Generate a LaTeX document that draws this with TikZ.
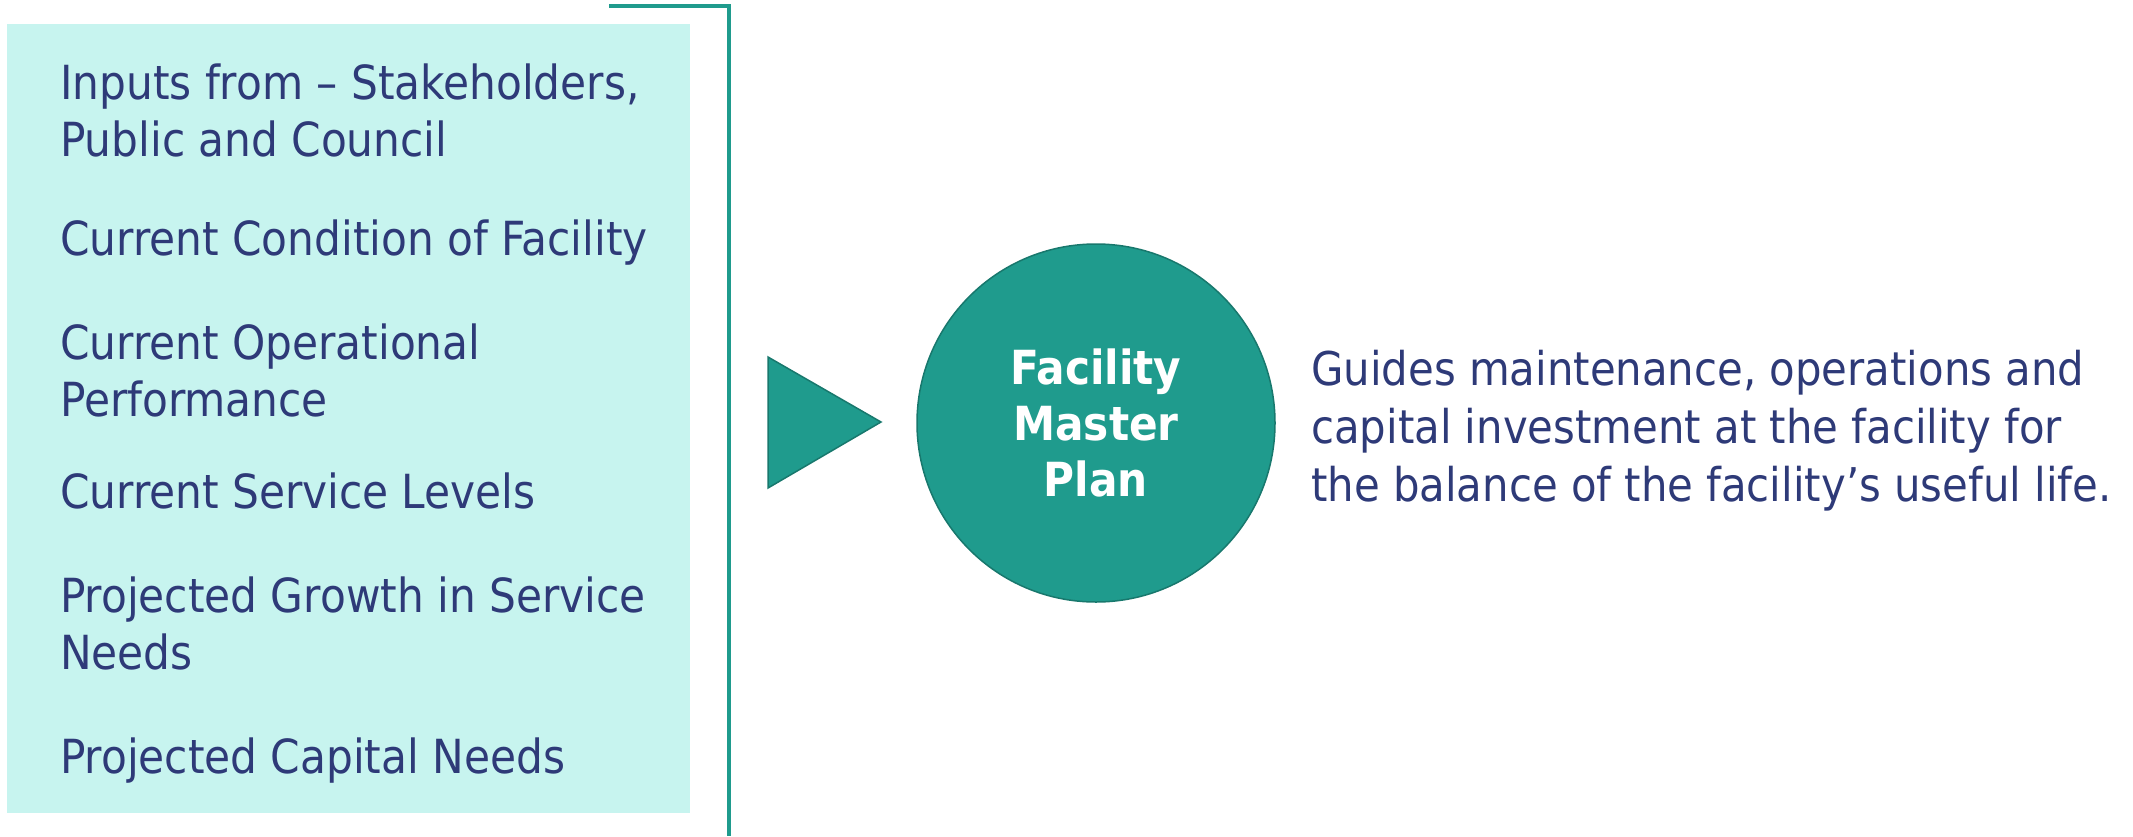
\documentclass[tikz,border=0pt]{standalone}
\usepackage{fontspec}
\setmainfont{DejaVu Sans Condensed}
\definecolor{boxfill}{RGB}{199,244,239}
\definecolor{navy}{RGB}{46,58,120}
\definecolor{teal1}{RGB}{31,155,141}
\definecolor{teal2}{RGB}{24,120,109}
\begin{document}
\begin{tikzpicture}[x=1pt,y=-1pt,
  item/.style={anchor=base west,align=left,inner sep=0pt,text=navy,font=\fontsize{47}{57}\selectfont},
  desc/.style={anchor=base west,align=left,inner sep=0pt,text=navy,font=\fontsize{46.5}{58}\selectfont}]
\useasboundingbox (0,0) rectangle (2133,836);
\fill[boxfill] (7,24) rectangle (690,813);
\node[item] (i1) at (60,156) {Inputs from – Stakeholders,\\Public and Council};
\node[item] (i2) at (60,255) {Current Condition of Facility};
\node[item] (i3) at (60,416) {Current Operational\\Performance};
\node[item] (i4) at (60,508) {Current Service Levels};
\node[item] (i5) at (60,669) {Projected Growth in Service\\Needs};
\node[item] (i6) at (60,773) {Projected Capital Needs};
\coordinate (b1) at (609,6);
\coordinate (b2) at (729,6);
\coordinate (b3) at (729,836);
\draw[teal1,line width=3.2pt] (b1) -- (b2) -- (b3);
\coordinate (t1) at (768,357);
\coordinate (t2) at (768,488);
\coordinate (t3) at (881,422);
\filldraw[fill=teal1,draw=teal2,line width=1.5pt,line join=miter] (t1) -- (t3) -- (t2) -- cycle;
\node[circle,fill=teal1,draw=teal2,line width=1.5pt,minimum size=358pt,inner sep=0pt] (c) at (1096,423) {};
\node[align=center,text=white,font=\fontsize{47}{56}\selectfont\bfseries] (ct) at (c.center) {Facility\\Master\\Plan};
\node[desc] (d) at (1311,501) {Guides maintenance, operations and\\capital investment at the facility for\\the balance of the facility’s useful life.};
\end{tikzpicture}
\end{document}
